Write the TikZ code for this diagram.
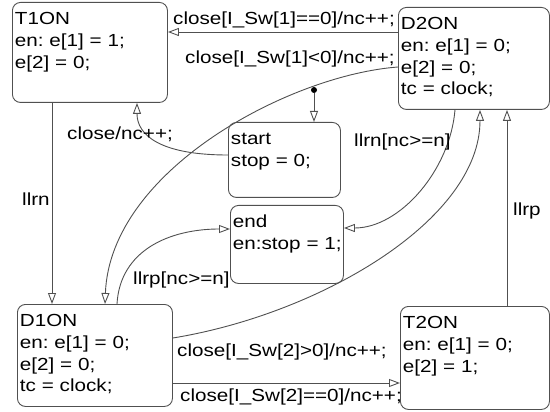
\documentclass[tikz,border=0pt]{standalone}
\usepackage{fontspec}
\setmainfont{Liberation Sans}[FakeStretch=1.18, WordSpace=1.5]
\usepackage{tikz}
\usetikzlibrary{positioning,arrows.meta}
\definecolor{linegray}{RGB}{80,80,80}
\tikzset{every node/.style={font=\fontsize{17.5pt}{21.8pt}\selectfont}}
\frenchspacing

\begin{document}
\begin{tikzpicture}[
  x=1pt, y=-1pt,
  state/.style={
    draw=linegray,
    line width=0.9pt,
    rectangle,
    rounded corners=8pt,
    anchor=north west,
    align=left,
    inner xsep=2.5pt,
    inner ysep=3pt,
    text height=19pt
  },
  lbl/.style={anchor=base west, inner sep=0pt},
  trans/.style={draw=linegray, line width=0.9pt,
    -{Triangle[open, length=11pt, width=8pt]}}
]
\useasboundingbox (0,0) rectangle (550,412);

\node[state, text width=150pt, text depth=75pt] (t1) at (12,2)
{T1ON\\en: e[1] = 1;\\e[2] = 0;};

\node[state, text width=146pt, text depth=77pt] (d2) at (398,7)
{D2ON\\en: e[1] = 0;\\e[2] = 0;\\tc = clock;};

\node[state, text width=107pt, text depth=50pt] (st) at (228,122)
{start\\stop = 0;};

\node[state, text width=108pt, text depth=53pt] (en) at (230,205)
{end\\\mbox{en:stop = 1;}};

\node[state, text width=150pt, text depth=77pt] (d1) at (17,304)
{D1ON\\en: e[1] = 0;\\e[2] = 0;\\tc = clock;};

\node[state, text width=144pt, text depth=78pt] (t2) at (400,306)
{T2ON\\en: e[1] = 0;\\e[2] = 1;};

\node[circle, fill=black, inner sep=0pt, minimum size=6pt] (init) at (314,90) {};

\draw[trans] (init) -- (init |- st.north);

\draw[trans] ([yshift=-25pt]d2.north west) -- ([yshift=-30pt]t1.north east);
\draw[trans] ([yshift=-60pt]d2.north west) .. controls (290,75) and (110,170) .. ([xshift=88pt]d1.north west);
\draw[trans] ([yshift=-33pt]st.north west) .. controls (160,155) and (137,135) .. ([xshift=125pt]t1.south west);
\draw[trans] ([xshift=57pt]d2.south west) .. controls (450,170) and (400,228) .. ([yshift=-23pt]en.north east);
\draw[trans] ([xshift=100pt]d1.north west) .. controls (120,250) and (170,229) .. ([yshift=-24pt]en.north west);
\draw[trans] ([xshift=40pt]t1.south west) -- ([xshift=35pt]d1.north west);
\draw[trans] ([yshift=-34pt]d1.north east) .. controls (320,314) and (480,220) .. ([xshift=82pt]d2.south west);
\draw[trans] ([yshift=-79pt]d1.north east) -- ([yshift=-77pt]t2.north west);
\draw[trans] ([xshift=107pt]t2.north west) -- ([xshift=109pt]d2.south west);

\node[lbl] (l1) at (173,25) {close[I\_Sw[1]==0]/nc++;};
\node[lbl] (l2) at (185,64) {close[I\_Sw[1]<0]/nc++;};
\node[lbl] (l3) at (67,140) {close/nc++;};
\node[lbl] (l4) at (22,205) {llrn};
\node[lbl] (l5) at (354,147) {llrn[nc>=n]};
\node[lbl] (l6) at (133,284) {llrp[nc>=n]};
\node[lbl] (l7) at (513,215) {llrp};
\node[lbl] (l8) at (177,356) {close[I\_Sw[2]>0]/nc++;};
\node[lbl] (l9) at (180,401) {close[I\_Sw[2]==0]/nc++;};

\end{tikzpicture}
\end{document}
